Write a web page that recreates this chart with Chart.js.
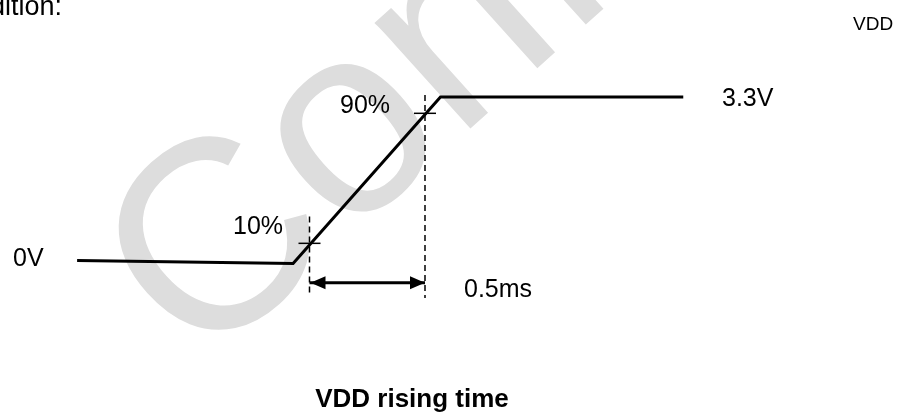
<!DOCTYPE html>
<html>
<head>
<meta charset="utf-8">
<script src="https://cdn.jsdelivr.net/npm/chart.js@4/dist/chart.umd.min.js"></script>
<style>
html,body{margin:0;padding:0;background:#fff;}
#wrap{width:898px;height:413px;position:relative;}
canvas{display:block;}
</style>
</head>
<body>
<div id="wrap"><canvas id="c" width="898" height="413"></canvas></div>
<script>
// ---- data (time in ms, voltage in V) ----
const timeMs   = [-1.006, -0.071, 0.567, 1.618];
const voltage  = [0.06, 0.0, 3.3, 3.3];
const markTimes = [0, 0.5];           // 10% and 90% crossings
const markVolts = [0.40, 2.977];
const guideTop    = [0.93, 3.34];
const guideBottom = [-0.625, -0.684];
const arrowVolt = -0.38;
const textLabels = ['0V', '10%', '90%', '3.3V', '0.5ms'];
const captionText = 'VDD rising time';
const cornerText = 'VDD';
const headerText = 'condition:';
const watermarkText = 'Confidential';

const signal = timeMs.map((t, i) => ({x: t, y: voltage[i]}));
const marks = markTimes.map((t, i) => ({x: t, y: markVolts[i]}));
const guides = markTimes.map((t, i) => [{x: t, y: guideTop[i]}, {x: t, y: guideBottom[i]}]);
const arrow = markTimes.map(t => ({x: t, y: arrowVolt}));

const FONT = '"Liberation Sans", Arial, Helvetica, sans-serif';

const watermark = {
  id: 'watermark',
  beforeDatasetsDraw(chart) {
    const ctx = chart.ctx;
    ctx.save();
    ctx.translate(200, 372);
    ctx.rotate(-42 * Math.PI / 180);
    ctx.fillStyle = '#dddddd';
    ctx.font = '270px ' + FONT;
    ctx.textBaseline = 'alphabetic';
    ctx.fillText(watermarkText, 0, 0);
    ctx.restore();
  }
};

const annotate = {
  id: 'annotate',
  afterDatasetsDraw(chart) {
    const ctx = chart.ctx;
    const xs = chart.scales.x, ys = chart.scales.y;
    // arrowheads
    const ay = ys.getPixelForValue(arrowVolt);
    const x0 = xs.getPixelForValue(markTimes[0]);
    const x1 = xs.getPixelForValue(markTimes[1]);
    ctx.save();
    ctx.fillStyle = '#000';
    const L = 15, H = 6.5;
    ctx.beginPath();
    ctx.moveTo(x0 + 1, ay); ctx.lineTo(x0 + 1 + L, ay - H); ctx.lineTo(x0 + 1 + L, ay + H); ctx.closePath(); ctx.fill();
    ctx.beginPath();
    ctx.moveTo(x1, ay); ctx.lineTo(x1 - L, ay - H); ctx.lineTo(x1 - L, ay + H); ctx.closePath(); ctx.fill();

    ctx.fillStyle = '#000';
    ctx.textBaseline = 'alphabetic';
    ctx.font = '25px ' + FONT;
    ctx.textAlign = 'left';
    ctx.fillText(textLabels[0], 13, 266);
    ctx.fillText(textLabels[1], 233, 234);
    ctx.fillText(textLabels[2], 340, 113);
    ctx.fillText(textLabels[3], 722, 106);
    ctx.fillText(textLabels[4], 464, 297);
    ctx.textAlign = 'right';
    ctx.font = '27px ' + FONT;
    ctx.fillText(headerText, 62, 15);
    ctx.textAlign = 'left';
    ctx.font = '19px ' + FONT;
    ctx.fillText(cornerText, 853, 30);
    ctx.textAlign = 'center';
    ctx.font = 'bold 26px ' + FONT;
    ctx.fillText(captionText, 412, 407);
    ctx.restore();
  }
};

new Chart(document.getElementById('c'), {
  type: 'scatter',
  data: {
    datasets: [
      {data: signal, showLine: true, borderColor: '#000', borderWidth: 3, pointRadius: 0, tension: 0, borderJoinStyle: 'miter'},
      {data: guides[0], showLine: true, borderColor: '#000', borderWidth: 1.5, borderDash: [6, 4], pointRadius: 0},
      {data: guides[1], showLine: true, borderColor: '#000', borderWidth: 1.5, borderDash: [6, 4], pointRadius: 0},
      {data: marks, showLine: false, pointStyle: 'line', pointRadius: 11, borderColor: '#000', pointBorderWidth: 1.5, pointBackgroundColor: '#000'},
      {data: arrow, showLine: true, borderColor: '#000', borderWidth: 3, pointRadius: 0}
    ]
  },
  options: {
    responsive: false,
    animation: false,
    events: [],
    layout: {padding: 0, autoPadding: false},
    plugins: {legend: {display: false}, tooltip: {enabled: false}, title: {display: false}},
    scales: {
      x: {type: 'linear', display: false, min: -1.3398, max: 2.5476},
      y: {type: 'linear', display: false, min: -2.963, max: 5.223}
    }
  },
  plugins: [watermark, annotate]
});
</script>
</body>
</html>
